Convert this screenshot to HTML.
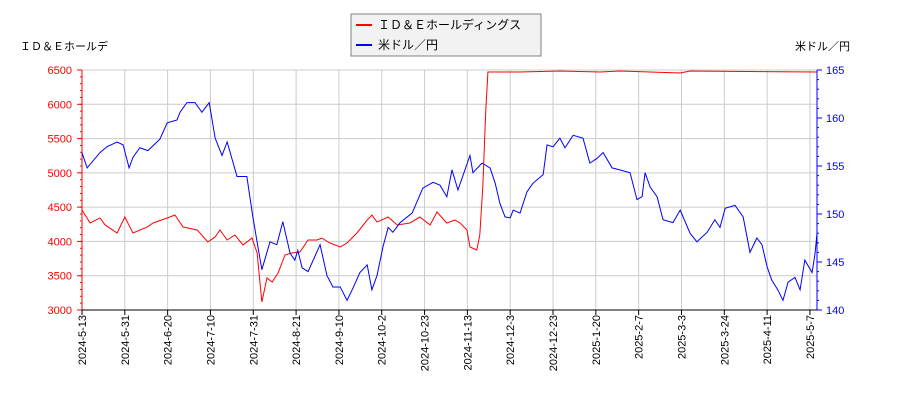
<!DOCTYPE html>
<html><head><meta charset="utf-8"><style>
body{margin:0;background:#fff;}
svg{display:block;font-family:"Liberation Sans","Noto Sans CJK JP",sans-serif;}
</style></head><body>
<svg id="chart" width="900" height="400" xmlns="http://www.w3.org/2000/svg">
<g id="grid"></g>
<g id="axes"></g>
<g id="series"></g>
<text x="20" y="50" font-size="11" fill="#000">ＩＤ＆Ｅホールデ</text>
<text x="850" y="50" font-size="11" fill="#000" text-anchor="end">米ドル／円</text>
<g>
<rect x="351" y="14" width="190" height="42" fill="#f2f2f2" stroke="#808080"/>
<line x1="356" y1="25" x2="372" y2="25" stroke="#f00" stroke-width="2"/>
<text x="378" y="29" font-size="12">ＩＤ＆Ｅホールディングス</text>
<line x1="356" y1="45" x2="372" y2="45" stroke="#00f" stroke-width="2"/>
<text x="378" y="49" font-size="12">米ドル／円</text>
</g>
</svg>
<script>
const xTickLabels=["2024-5-13","2024-5-31","2024-6-20","2024-7-10","2024-7-31","2024-8-21","2024-9-10","2024-10-2","2024-10-23","2024-11-13","2024-12-3","2024-12-23","2025-1-20","2025-2-7","2025-3-3","2025-3-24","2025-4-11","2025-5-7"];
const leftTicks=[3000,3500,4000,4500,5000,5500,6000,6500];
const rightTicks=[140,145,150,155,160,165];
const stockT=[0,.19,.42,.54,.82,1.0,1.19,1.52,1.66,1.99,2.17,2.36,2.69,2.94,3.11,3.22,3.39,3.57,3.76,3.97,4.09,4.20,4.32,4.44,4.58,4.74,4.90,5.09,5.28,5.49,5.60,5.79,6.03,6.19,6.42,6.66,6.77,6.89,7.15,7.36,7.66,7.89,8.13,8.29,8.52,8.71,8.83,8.99,9.06,9.22,9.29,9.36,9.43,9.48,10.23,11.16,12.1,12.56,13.97,14.2,17.165];
const stockV=[4458,4269,4342,4240,4123,4356,4123,4210,4269,4342,4385,4210,4167,3992,4065,4167,4021,4094,3948,4050,3831,3117,3467,3408,3540,3802,3831,3846,4021,4021,4050,3977,3919,3977,4123,4312,4385,4283,4356,4240,4269,4356,4240,4429,4269,4312,4269,4167,3919,3875,4094,4794,5917,6471,6471,6485,6471,6485,6456,6485,6471];
const usdT=[0,.12,.42,.58,.82,.96,1.1,1.19,1.35,1.54,1.82,1.99,2.22,2.29,2.45,2.64,2.80,2.97,3.11,3.27,3.39,3.62,3.85,3.99,4.20,4.39,4.55,4.69,4.86,4.97,5.04,5.14,5.28,5.56,5.72,5.86,6.03,6.19,6.33,6.49,6.66,6.77,6.89,7.03,7.15,7.26,7.43,7.71,7.96,8.20,8.36,8.52,8.64,8.78,9.06,9.13,9.34,9.53,9.65,9.76,9.88,10.0,10.07,10.23,10.39,10.53,10.77,10.86,11.0,11.16,11.28,11.47,11.70,11.86,12.03,12.17,12.38,12.56,12.80,12.96,13.08,13.15,13.27,13.43,13.57,13.80,13.97,14.20,14.36,14.60,14.78,14.90,15.02,15.25,15.44,15.60,15.76,15.88,16.00,16.11,16.25,16.37,16.49,16.65,16.77,16.88,17.05,17.12,17.165];
const usdV=[156.4,154.8,156.4,157.0,157.5,157.2,154.8,155.9,156.9,156.6,157.8,159.5,159.8,160.6,161.6,161.6,160.6,161.6,157.9,156.1,157.5,153.9,153.9,149.7,144.2,147.1,146.8,149.2,145.9,145.2,146.2,144.4,144.0,146.8,143.6,142.4,142.4,141.0,142.3,143.9,144.7,142.1,143.6,146.6,148.6,148.1,149.1,150.1,152.7,153.3,153.0,151.8,154.6,152.5,156.1,154.3,155.3,154.8,153.2,151.1,149.7,149.6,150.4,150.1,152.3,153.2,154.1,157.2,157.0,157.9,156.9,158.2,157.9,155.3,155.8,156.4,154.8,154.6,154.3,151.5,151.8,154.3,152.8,151.8,149.4,149.1,150.4,148.0,147.1,148.1,149.4,148.6,150.6,150.9,149.7,146.0,147.5,146.8,144.5,143.1,142.1,141.0,142.9,143.4,142.1,145.2,143.9,145.9,148.0];
const L=82,R=817,T=70,B=310;
const xs=t=>L+t*(R-L)/17.165;
const yl=v=>B-(v-3000)/3500*(B-T);
const yr=v=>B-(v-140)/25*(B-T);
const NS="http://www.w3.org/2000/svg";
function mk(tag,attrs,parent){const e=document.createElementNS(NS,tag);for(const k in attrs)e.setAttribute(k,attrs[k]);parent.appendChild(e);return e;}
const grid=document.getElementById('grid'),axes=document.getElementById('axes'),series=document.getElementById('series');
leftTicks.forEach(v=>{
 const g=mk('line',{x1:L,x2:R,y1:yl(v),y2:yl(v),stroke:'#ccc'},grid);
 
 
 const t=mk('text',{x:72,y:yl(v)+4,'font-size':11,fill:'#f00','text-anchor':'end'},axes);
 t.textContent=v;
 
 
 mk('line',{x1:L-5,x2:L,y1:yl(v),y2:yl(v),stroke:'#f00'},axes);
});
for(let v=3000;v<=6500;v+=100){mk('line',{x1:L-2,x2:L,y1:yl(v),y2:yl(v),stroke:'#f00'},axes);}
rightTicks.forEach(v=>{
 const t=mk('text',{x:826,y:yr(v)+4,'font-size':11,fill:'#00f'},axes);
 t.textContent=v;
 
 
 mk('line',{x1:R,x2:R+5,y1:yr(v),y2:yr(v),stroke:'#00f'},axes);
});
for(let v=140;v<=165;v+=1){mk('line',{x1:R,x2:R+2,y1:yr(v),y2:yr(v),stroke:'#00f'},axes);}
xTickLabels.forEach((s,i)=>{
 const x=xs(i);
 const g=mk('line',{x1:x,x2:x,y1:T,y2:B,stroke:'#ccc'},grid);
 
 
 mk('line',{x1:x,x2:x,y1:B,y2:B+5,stroke:'#000'},axes);
 const t=mk('text',{x:0,y:0,'font-size':11,fill:'#000','text-anchor':'end',transform:`translate(${x+4},${B+5}) rotate(-90)`},axes);
 t.textContent=s;
 
 
});
const a1=mk('line',{x1:L,x2:L,y1:T,y2:B,stroke:'#f00'},axes);


const a2=mk('line',{x1:R,x2:R,y1:T,y2:B,stroke:'#00f'},axes);


const a3=mk('line',{x1:L,x2:R,y1:B,y2:B,stroke:'#000'},axes);


const p1=mk('polyline',{points:stockT.map((t,i)=>xs(t)+','+yl(stockV[i])).join(' '),fill:'none',stroke:'#f00','stroke-width':1},series);


const p2=mk('polyline',{points:usdT.map((t,i)=>xs(t)+','+yr(usdV[i])).join(' '),fill:'none',stroke:'#00f','stroke-width':1},series);


</script>
</body></html>
